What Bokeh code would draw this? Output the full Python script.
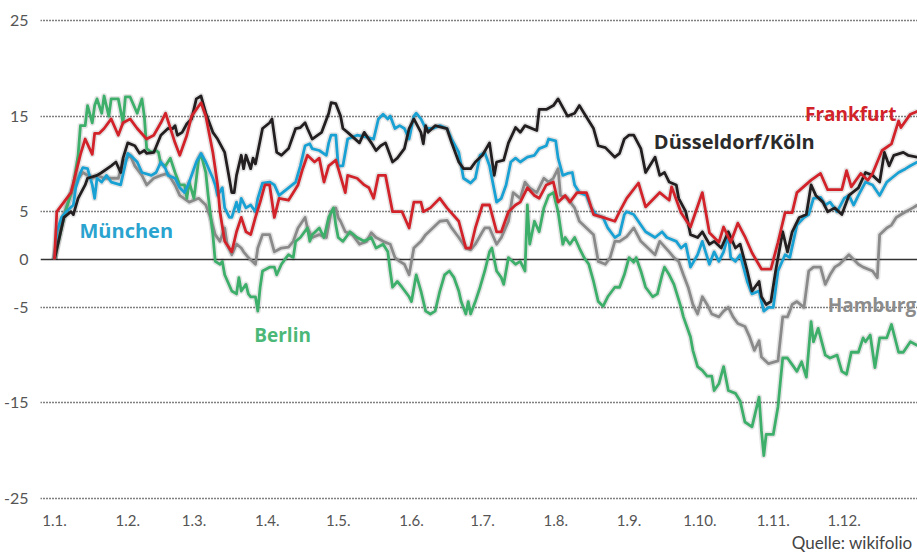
from bokeh.plotting import figure
from bokeh.models import FixedTicker, Span, Label, Range1d, Title
from bokeh.embed import file_html
from bokeh.resources import INLINE

# ---- data: performance in % by day of year ----
month_starts = [0, 31, 59, 90, 120, 151, 181, 212, 243, 273, 304, 334]
month_labels = ["1.1.", "1.2.", "1.3.", "1.4.", "1.5.", "1.6.", "1.7.", "1.8.", "1.9.", "1.10.", "1.11.", "1.12."]
y_ticks = [-25, -15, -5, 0, 5, 15, 25]
y_labels = ["-25", "-15", "-5", "0", "5", "15", "25"]

frankfurt_days = [0,1,4,7,9,11,13,16,17,19,21,24,27,29,32,35,39,42,45,47,51,53,56,58,62,64,67,69,70,72,75,77,79,81,83,85,87,89,91,93,95,99,103,105,107,110,112,114,116,119,123,124,128,131,133,135,137,140,143,147,150,152,155,156,159,163,166,171,174,176,178,181,184,187,189,192,195,197,200,203,205,208,211,213,216,218,221,225,228,232,237,239,242,247,250,256,260,261,265,269,274,277,281,283,286,289,292,295,299,303,306,309,312,314,320,324,327,333,335,337,341,344,346,350,354,357,358,362,365]
frankfurt_vals = [0,5,6,7,9,11,12.6,11,13.2,13.2,13.7,14.7,13,14.3,14.7,13.7,12.6,13,14.3,15.3,12.2,10.9,13,15,16.4,15,11.2,7.8,5,1.9,0.8,2.9,4.4,2.9,2.6,4.4,6,7.8,7.8,4.4,6.4,6.2,7.8,9.5,10.9,10.2,10.6,8.1,9.8,10.4,7,8.8,8.5,7.8,7.5,6.4,8.8,8.8,5,5,3.3,6,6,5,5.4,6.4,5.4,4,1.2,1.2,3.3,5.7,5.7,2.9,2.9,5,5.7,6,7.5,6.7,6.4,7.8,8.1,6,6.7,6,7,7,4.7,4.4,4,5,6.4,8,5.5,7,6.2,7.6,4.9,3.4,7,2.8,1.8,3.4,1.8,3.8,2.4,0.7,-1,-1,1.8,4.9,4.9,7,8.3,9,7.3,7.3,9.3,7.6,9,8.3,9,11.4,12.1,14.5,13.8,15.2,15.5]

duesseldorf_days = [0,4,7,8,10,13,14,18,20,24,26,28,29,31,34,36,38,39,42,45,48,50,51,52,54,56,58,60,62,64,67,69,72,73,75,76,77,79,80,81,83,84,85,88,91,92,94,96,99,102,104,106,107,109,113,116,117,119,121,122,124,129,131,134,136,138,140,143,145,148,150,152,155,156,157,158,161,166,168,171,173,176,178,181,184,186,187,190,192,195,197,199,204,205,208,211,213,217,220,222,224,228,230,233,237,239,241,243,245,248,250,254,256,258,260,263,264,267,269,272,274,277,279,282,285,288,290,293,295,298,299,301,303,305,308,310,312,315,318,320,322,325,327,330,333,336,340,343,346,349,351,353,355,359,361,365]
duesseldorf_vals = [0,4.4,5,4.7,6.4,7.8,8.5,8.8,9.1,9.8,10.2,9.1,10.6,12.2,11.9,11.1,11.4,11.1,11.2,13,13.7,13.7,14,13,13.3,14.2,14.7,16.8,17.1,15.3,13.3,12.6,11.2,9.8,7,7,8.8,10.9,9.5,10.9,9.5,10.6,10,13.7,14.3,14.7,11.2,10.9,11.6,13.7,13.8,14.3,13.7,12.6,13.3,15.3,16.4,16.3,15,13.7,13.3,12.2,13.3,12.2,11.4,11.9,12.2,10.2,10.6,11.6,13.7,14.7,13.3,12.1,14,13.3,14,13.7,12.2,10.2,9.5,9.5,10.2,10.9,12.2,8.8,10.2,10.4,12.2,13.8,13.3,14,13.5,15.7,15.7,16.1,16.8,15,15.3,16.1,15.3,13.7,11.9,11.7,10.7,11.1,12.6,13,13,11.6,9.1,10.7,8.8,9.1,8.1,7.8,6.4,5,2.6,2.3,2.9,1.6,1.9,1.2,2.9,1.2,1.6,-1.2,-3.3,-2.3,-3.9,-4.7,-4.4,-1.2,2.9,0.8,2.9,4.4,4.7,7.8,6.7,6,5,5.4,4.7,6.7,7.5,9.1,8.8,8.1,11.2,9.8,10.9,11.2,10.9,10.7]

muenchen_days = [0,1,3,5,8,9,11,12,14,16,17,18,20,22,24,28,31,33,35,37,41,43,45,47,48,51,53,55,57,60,62,64,67,68,69,71,72,74,75,77,78,79,81,83,85,86,88,91,93,95,99,102,104,106,108,109,112,115,116,117,119,120,122,124,128,132,135,137,139,141,142,144,146,148,150,152,153,155,157,160,163,166,168,171,173,176,178,180,182,184,187,189,191,193,195,197,200,203,205,208,209,212,213,215,217,219,220,222,225,227,229,232,234,237,239,241,242,245,248,250,254,257,259,263,265,267,269,272,274,277,279,281,283,285,286,288,290,293,295,298,300,302,304,306,309,311,314,317,319,321,324,326,328,331,334,336,338,340,343,346,349,352,354,357,360,362,365]
muenchen_vals = [0,2.9,4.4,5,5.7,7.5,9.1,9.6,9.5,7.8,6.4,8.5,8.1,8.8,8.1,7.8,11.1,10.7,10.2,9.1,8.8,9.1,10.2,9.5,8.8,8.5,7.5,7,8.1,10.2,11.1,10.2,8.5,7.8,6.7,7.5,5.4,4.4,4.4,6,5,6.4,5.4,5.7,5,6.4,8,8.1,7.8,6.7,7.5,8.1,9.8,11.9,12.1,11.6,11.4,10.9,12.2,13,13,9.8,9.8,12.6,13,12.8,12.6,14.7,15.2,14.7,15,13.7,14,13.7,12.6,15,15.3,14.7,13.7,13.7,14,13.7,12.6,11.2,8.5,8,8.5,10.9,11.2,9.8,6,6.4,7.8,10.2,10.6,10.2,10.7,10.9,11.6,11.9,12.6,12.4,10.6,8.8,9,9.1,7.8,7,6.7,5.4,4.7,4.4,3.3,2.3,2.6,4.7,5,4.7,3.6,2.9,2.3,2.9,2.3,1.9,1.2,1.6,-0.8,0.5,1.9,-0.5,0.8,-0.2,0.8,2.6,0.2,-0.2,0.5,-2.3,-3.6,-3.3,-5.4,-5,-5,-1.2,0.5,0.2,3.6,4.4,4.7,6.4,6.5,5.7,6,5,6.4,6.7,5.7,6.7,8.1,7.8,6.7,8.1,8.5,9.1,9.5,9.8,10.2]

hamburg_days = [0,2,5,8,10,12,16,18,21,27,29,32,34,37,39,42,45,48,51,53,57,61,64,66,68,70,72,73,75,77,79,80,82,85,86,88,91,93,96,99,101,103,106,107,109,112,115,117,119,120,121,123,126,129,132,134,136,139,142,144,146,148,150,152,155,157,160,163,166,168,171,174,176,178,181,182,184,187,189,192,194,197,199,201,204,207,209,211,213,214,217,220,222,225,228,230,233,235,237,239,242,245,248,251,254,256,260,262,264,266,268,270,272,274,276,278,281,283,285,287,289,292,294,296,298,299,302,306,308,310,311,312,314,317,319,321,324,326,328,330,332,336,340,342,346,348,349,352,354,356,358,360,363,365]
hamburg_vals = [0,3,5.5,7.5,8.5,9.1,8.5,8.8,8.5,8.5,10.2,10.9,9.8,8.8,7.8,8.5,8.8,9,7.8,6.7,6,6.4,5.7,4.4,2.6,1.9,3.3,1.6,0.5,1.6,1.2,0.8,0.2,-0.5,1.2,2.6,2.6,0.8,1.2,1.3,1.9,3.3,4.4,3.3,2.3,2.6,2.3,5,5.4,4.4,4,2.9,2.6,1.6,1.9,2.8,2.3,1.9,1.6,0.2,-0.2,-0.5,-1.6,1.2,1.9,2.6,3.3,4,4.1,3.3,2.3,1.2,1,1.6,2.9,3.3,3.3,1.6,2.3,4,7,6.4,8.1,7.5,7,8.5,8.1,8.5,9.5,6.7,6.4,5.4,4,3.3,2.6,-0.2,-0.5,0.2,1.9,1.9,2.4,3.3,1.9,1.2,0.5,1.9,0.8,0.2,-0.2,-1.6,-2.9,-4.7,-5.7,-3.9,-4.7,-5.7,-6,-5.4,-5,-6,-6.7,-7,-8.1,-9.5,-8.5,-10.2,-10.9,-10.6,-6,-6,-5.4,-4.7,-4.4,-5,-1.2,-0.8,-0.8,-2.6,-1.6,-0.8,-0.5,0.5,-0.5,-0.8,-1.2,-1.9,2.6,3.3,3.6,4.4,4.7,5,5.4,5.7]

berlin_days = [0,4,8,10,11,13,14,16,17,18,20,21,23,24,27,29,30,32,35,37,38,39,41,43,44,45,47,49,51,53,55,56,57,59,61,62,64,65,67,68,70,71,72,75,77,78,79,81,82,83,85,86,87,88,91,93,94,96,98,99,101,102,104,107,108,109,112,114,116,118,119,120,122,125,128,131,134,136,139,141,142,143,145,147,150,151,153,155,157,159,161,163,165,167,169,171,172,174,175,176,178,180,182,184,185,187,189,190,192,195,197,199,200,201,203,205,207,209,211,213,215,216,218,220,222,224,226,228,230,232,234,237,239,241,243,245,246,248,250,253,255,257,258,260,262,265,266,269,270,272,274,276,278,279,281,283,285,288,290,292,295,298,299,300,301,304,306,308,310,312,314,316,318,320,321,323,326,328,331,333,335,337,340,342,343,345,347,349,352,354,357,359,362,365]
berlin_vals = [0,4.4,7.8,10.9,14,14,16.1,14.3,16.1,16.8,15.3,17.1,15,16.8,16.8,14.3,17,17,15.3,16.8,15,11.6,11.2,11.4,11.2,10,9.8,10.6,9.1,7.8,7.8,6.4,8.1,6.4,10.5,11,9.1,6.7,2.6,-0.2,-0.5,-0.2,-1.6,-3.3,-3.6,-1.9,-3.3,-2.6,-3.6,-3.9,-3.9,-5.4,-2.9,-1.2,-0.8,-0.8,-1.6,-0.5,0.2,0.5,0.2,1.9,2.3,3.3,1.9,2.6,3.3,2.3,4.4,5.4,3.6,2.3,1.9,2.9,2.3,1.9,2.3,1.2,1.6,0.8,-1.2,-2.9,-2.3,-2.9,-3.9,-4.4,-1.6,-3.3,-5.4,-5.7,-5.4,-3.3,-1.6,-1.2,-1.9,-3.3,-4.4,-5.7,-4.4,-5.7,-4.4,-2.9,-1.2,0.8,1.2,-1.2,-1.9,-2.6,0.2,-0.5,-0.2,-1.2,5.7,1.6,4,2.9,5.4,6.7,7,5,1.6,2.3,1.6,2.3,1.2,0.2,-0.5,-2.3,-4.4,-4.9,-3.9,-2.9,-2.9,-1.6,0.2,-0.3,0.2,-1.2,-2.9,-3.9,-3.6,-1.6,-0.8,-1.6,-2.6,-5,-6,-8.1,-9.5,-11.2,-11.6,-12.2,-12.2,-13.7,-13,-11.2,-13.7,-14,-14.8,-17,-17.5,-14.4,-17.9,-20.5,-18.3,-18.3,-15.4,-10.3,-10.3,-11,-11.7,-10.7,-12.3,-6.5,-8.6,-7.2,-10,-10.3,-10,-11.7,-12,-9.7,-9.7,-8.2,-8.6,-7.9,-11.3,-8.2,-8.2,-6.8,-9.7,-9.7,-8.6,-9]

series = [
    ("Hamburg", hamburg_days, hamburg_vals, "#8a8a8a"),
    ("Berlin", berlin_days, berlin_vals, "#3daf6a"),
    ("München", muenchen_days, muenchen_vals, "#19a1d3"),
    ("Düsseldorf/Köln", duesseldorf_days, duesseldorf_vals, "#231f20"),
    ("Frankfurt", frankfurt_days, frankfurt_vals, "#d2232a"),
]

TICK_FONT = "Lato"
LABEL_FONT = "Open Sans"

p = figure(width=917, height=556, output_backend="svg", toolbar_location=None,
           x_range=Range1d(-5.9, 365), y_range=Range1d(-25.73, 27.09),
           min_border_left=36, min_border_right=0, min_border_top=0, min_border_bottom=51)
p.outline_line_color = None
p.background_fill_color = "white"
p.border_fill_color = "white"

# grid
p.xgrid.grid_line_color = None
p.ygrid.ticker = FixedTicker(ticks=[-25, -15, -5, 5, 15, 25])
p.ygrid.grid_line_color = "#000000"
p.ygrid.grid_line_dash = "1 2"
p.ygrid.grid_line_width = 1.6
p.add_layout(Span(location=0, dimension="width", line_color="#333333", line_width=1.6, level="underlay"))

# axes
p.xaxis.ticker = FixedTicker(ticks=month_starts)
p.xaxis.major_label_overrides = {d: l for d, l in zip(month_starts, month_labels)}
p.yaxis.ticker = FixedTicker(ticks=y_ticks)
p.yaxis.major_label_overrides = {t: l for t, l in zip(y_ticks, y_labels)}
for ax in (p.xaxis[0], p.yaxis[0]):
    ax.axis_line_color = None
    ax.major_tick_line_color = None
    ax.minor_tick_line_color = None
    ax.major_label_text_font = TICK_FONT
    ax.major_label_text_color = "#555555"
p.xaxis.major_label_text_font_size = "15px"
p.xaxis.major_label_standoff = 3
p.yaxis.major_label_text_font_size = "16px"
p.yaxis.major_label_standoff = 6

# lines (soft shadow halo + line)
for name, d, v, c in series:
    p.line(d, v, line_color="#000000", line_alpha=0.10, line_width=6, line_join="round")
for name, d, v, c in series:
    p.line(d, v, line_color=c, line_width=2.8, line_join="round")

# series labels
labels = [
    ("Frankfurt", 317.4, 15.2, "#d2232a", "19px"),
    ("Düsseldorf/Köln", 253.5, 12.3, "#2b2b2b", "20px"),
    ("München", 10.6, 3.0, "#2aa3cf", "20px"),
    ("Berlin", 84.5, -7.9, "#4cb878", "19px"),
    ("Hamburg", 327.0, -4.8, "#8c8c8c", "19px"),
]
for t, x, y, c, fs in labels:
    p.add_layout(Label(x=x, y=y, text=t, text_color=c, text_font=LABEL_FONT, text_font_style="bold",
                       text_font_size=fs, text_baseline="middle", text_align="left"))

p.add_layout(Title(text="Quelle: wikifolio", align="right", text_color="#444444",
                   text_font=TICK_FONT, text_font_size="17px", text_font_style="normal",
                   standoff=2, offset=5), "below")

open("out.html", "w").write(file_html(p, INLINE))
